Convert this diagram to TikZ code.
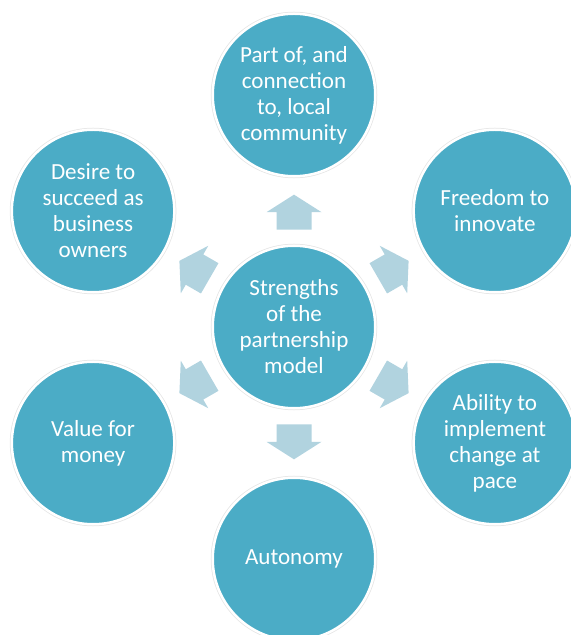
\documentclass[tikz,border=0pt]{standalone}
\usepackage{fontspec}
\setmainfont{Carlito}
\usetikzlibrary{calc}
\definecolor{bubblefill}{HTML}{4BACC6}
\definecolor{arrowfill}{HTML}{B1D3DF}
\tikzset{
    bubble/.style={circle, fill=bubblefill, draw=white, line width=0.075cm,
        preaction={draw=black!10, line width=0.12cm},
        minimum size=4.875cm, inner sep=0pt, align=center, text=white,
        font=\fontsize{19.7}{22.2}\selectfont},
    blockarrow/.pic={\fill[arrowfill] (-17.5,-17.5) -- (0,-17.5) -- (0,-27.5) -- (17.5,0)
        -- (0,27.5) -- (0,17.5) -- (-17.5,17.5) -- cycle;}
}
\begin{document}
\begin{tikzpicture}[x=0.03cm, y=0.03cm]
    \useasboundingbox (0,0) rectangle (571,635);
    \clip (0,0) rectangle (571,635);
    \node[bubble] (centre) at (294,308) {Strengths\\of the\\partnership\\model};
    \foreach \n/\a/\t in {top/90/{Part of, and\\connection\\to, local\\community},
            topright/30/{Freedom to\\innovate},
            bottomright/-30/{Ability to\\implement\\change at\\pace},
            bottom/-90/{Autonomy},
            bottomleft/210/{Value for\\money},
            topleft/150/{Desire to\\succeed as\\business\\owners}} {
        \node[bubble] (\n) at ($(centre)+(\a:232)$) {\t};
        \pic[rotate=\a] at ($(centre)!0.495!(\n)$) {blockarrow};
    }
\end{tikzpicture}
\end{document}
